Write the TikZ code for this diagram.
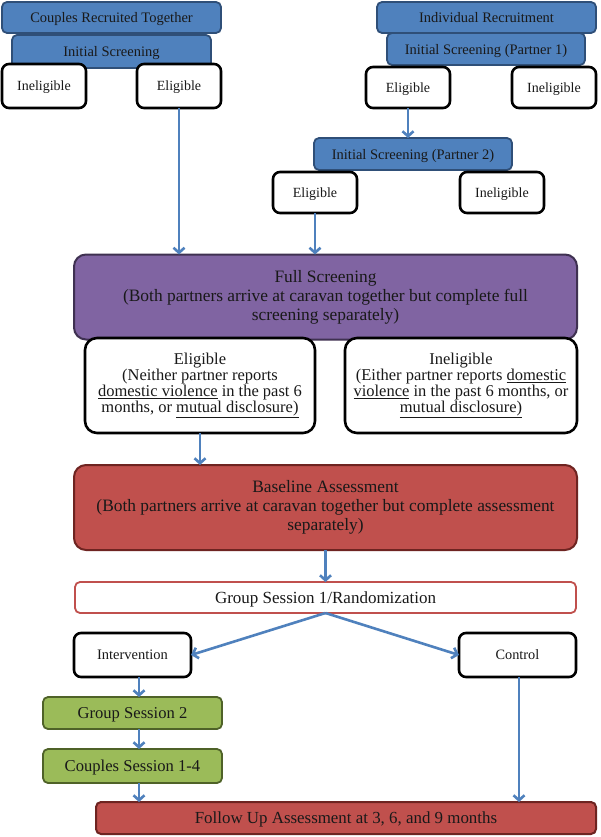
\documentclass[tikz,border=0pt]{standalone}
\usepackage{fontspec}
\setmainfont{Liberation Serif}
\usetikzlibrary{arrows.meta}
\definecolor{bluefill}{HTML}{4F81BD}
\definecolor{blueedge}{HTML}{2F4F78}
\definecolor{purplefill}{HTML}{8064A2}
\definecolor{purpleedge}{HTML}{3F3151}
\definecolor{redfill}{HTML}{C0504D}
\definecolor{rededge}{HTML}{6E2421}
\definecolor{redline}{HTML}{C0504D}
\definecolor{greenfill}{HTML}{9BBB59}
\definecolor{greenedge}{HTML}{4F6228}
\definecolor{arrowblue}{HTML}{4F81BD}
\tikzset{
  basebox/.style={inner sep=0pt, outer sep=0pt, align=center, text=black!90},
  oneline/.style={text depth=0pt},
  bluebox/.style={basebox, oneline, draw=blueedge, fill=bluefill, line width=1.8pt, rounded corners=5pt, font=\fontsize{14.5}{17}\selectfont},
  whitebox/.style={basebox, oneline, draw=black, fill=white, line width=2.6pt, rounded corners=7pt, font=\fontsize{14}{17}\selectfont},
  bigwhite/.style={basebox, draw=black, fill=white, line width=2.6pt, rounded corners=12pt, font=\fontsize{16.5}{16}\selectfont},
  purplebox/.style={basebox, draw=purpleedge, fill=purplefill, line width=2pt, rounded corners=12pt, font=\fontsize{17.4}{19}\selectfont},
  redbox/.style={basebox, draw=rededge, fill=redfill, line width=2pt, rounded corners=12pt, font=\fontsize{17.4}{19}\selectfont},
  redline/.style={basebox, oneline, draw=redline, fill=white, line width=1.8pt, rounded corners=5pt, font=\fontsize{17}{19}\selectfont},
  greenbox/.style={basebox, oneline, draw=greenedge, fill=greenfill, line width=1.8pt, rounded corners=5pt, font=\fontsize{16.6}{19}\selectfont},
  flow/.style={draw=arrowblue, line width=2.6pt, -{Straight Barb[length=5pt,width=11pt]}},
}
\begin{document}
\begin{tikzpicture}[x=1pt,y=-1pt]
\useasboundingbox[fill=white] (0,0) rectangle (600,837);
% top left
\node[bluebox, minimum width=219pt, minimum height=31pt] (couples) at (111.5,17.5) {Couples Recruited Together};
\node[bluebox, minimum width=199pt, minimum height=33pt] (initL) at (111.5,51.5) {Initial Screening};
\node[whitebox, minimum width=84pt, minimum height=44pt] (inelL) at (44,86) {Ineligible};
\node[whitebox, minimum width=84pt, minimum height=44pt] (eligL) at (179,86) {Eligible};
% top right
\node[bluebox, minimum width=219pt, minimum height=31pt] (indiv) at (486.5,17.5) {Individual Recruitment};
\node[bluebox, minimum width=198pt, minimum height=32pt] (initP1) at (486,49) {Initial Screening (Partner 1)};
\node[whitebox, minimum width=84pt, minimum height=41pt] (eligR) at (408,87.5) {Eligible};
\node[whitebox, minimum width=84pt, minimum height=41pt] (inelR) at (554,87.5) {Ineligible};
\node[bluebox, minimum width=198pt, minimum height=32pt] (initP2) at (413,154) {Initial Screening (Partner 2)};
\node[whitebox, minimum width=84pt, minimum height=41pt] (eligP2) at (315,192.5) {Eligible};
\node[whitebox, minimum width=84pt, minimum height=41pt] (inelP2) at (502,192.5) {Ineligible};
% full screening
\node[purplebox, minimum width=503pt, minimum height=85pt] (full) at (325.5,297) {Full Screening\\(Both partners arrive at caravan together but complete full\\screening separately)};
\node[bigwhite, minimum width=230pt, minimum height=95pt] (eligBig) at (200,385.5) {Eligible\\(Neither partner reports\\\underline{domestic violence} in the past 6\\months, or \underline{mutual disclosure)}};
\node[bigwhite, minimum width=232pt, minimum height=95pt] (inelBig) at (461,385.5) {Ineligible\\(Either partner reports \underline{domestic}\\\underline{violence} in the past 6 months, or\\\underline{mutual disclosure)}};
% baseline
\node[redbox, minimum width=503pt, minimum height=85pt] (base) at (325.5,507.5) {Baseline Assessment\\(Both partners arrive at caravan together but complete assessment\\separately)};
\node[redline, minimum width=501pt, minimum height=31pt] (gs1) at (325.5,597.5) {Group Session 1/Randomization};
\node[whitebox, minimum width=117pt, minimum height=44pt, font=\fontsize{14.5}{17}\selectfont] (interv) at (132.5,655) {Intervention};
\node[whitebox, minimum width=117pt, minimum height=44pt, font=\fontsize{14.3}{17}\selectfont] (control) at (517.5,655) {Control};
\node[greenbox, minimum width=179pt, minimum height=32pt] (gs2) at (132.5,713) {Group Session 2};
\node[greenbox, minimum width=179pt, minimum height=34pt] (coupS) at (132.5,766) {Couples Session 1-4};
\node[redbox, oneline, rounded corners=5pt, minimum width=500pt, minimum height=32pt, font=\fontsize{16.9}{19}\selectfont] (follow) at (346,818) {Follow Up Assessment at 3, 6, and 9 months};
% connectors
\coordinate (ax) at (139,0);
\coordinate (cx) at (519,0);
\draw[flow] (eligL.south) -- (eligL.south |- full.north);
\draw[flow] (eligR.south) -- (eligR.south |- initP2.north);
\draw[flow] (eligP2.south) -- (eligP2.south |- full.north);
\draw[flow] (eligBig.south) -- (eligBig.south |- base.north);
\draw[flow] (base.south) -- (gs1.north);
\draw[flow] (gs1.south) -- (interv.east);
\draw[flow] (gs1.south) -- (control.west);
\draw[flow] (interv.south -| ax) -- (gs2.north -| ax);
\draw[flow] (gs2.south -| ax) -- (coupS.north -| ax);
\draw[flow] (coupS.south -| ax) -- (follow.north -| ax);
\draw[flow] (control.south -| cx) -- (follow.north -| cx);
\end{tikzpicture}
\end{document}
